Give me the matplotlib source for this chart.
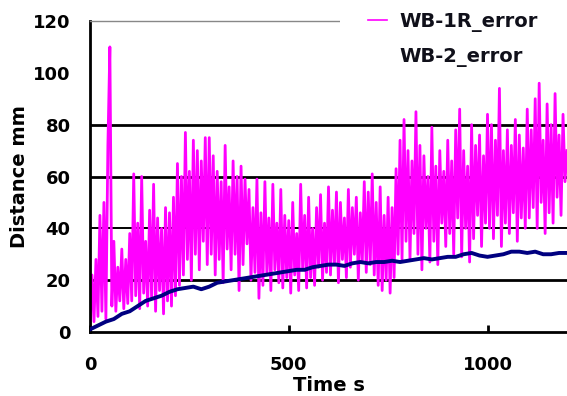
import matplotlib
matplotlib.use("Agg")
import matplotlib.pyplot as plt
from matplotlib.patches import Rectangle

# ---- data ----
t_pink = list(range(0, 1205, 5))
wb1r_error = [
    2, 22, 4, 28, 6, 45, 8, 50, 5, 72, 110, 10, 35, 8, 25, 12, 32, 9, 28, 11,
    38, 12, 61, 14, 42, 9, 60, 15, 35, 10, 47, 13, 57, 8, 44, 16, 40, 7, 48, 12,
    46, 10, 52, 14, 65, 18, 60, 22, 77, 28, 62, 20, 74, 30, 70, 24, 66, 35, 75, 26,
    75, 30, 68, 22, 62, 28, 58, 19, 72, 32, 56, 24, 66, 30, 60, 16, 64, 26, 59, 34,
    55, 20, 48, 23, 59, 13, 46, 18, 58, 22, 44, 16, 57, 24, 42, 19, 55, 17, 45, 21,
    43, 15, 50, 22, 38, 16, 57, 24, 45, 17, 52, 21, 40, 18, 48, 25, 53, 20, 42, 23,
    56, 22, 47, 26, 54, 19, 50, 28, 44, 21, 55, 25, 48, 30, 52, 20, 46, 27, 58, 23,
    54, 26, 61, 22, 50, 18, 56, 16, 45, 20, 52, 15, 48, 21, 63, 30, 74, 28, 82, 35,
    70, 28, 66, 38, 85, 30, 72, 24, 68, 40, 60, 27, 79, 35, 64, 26, 70, 42, 62, 33,
    74, 38, 66, 30, 78, 44, 86, 29, 70, 40, 64, 27, 80, 36, 72, 45, 76, 33, 68, 42,
    84, 40, 80, 36, 74, 45, 94, 33, 70, 42, 78, 38, 72, 46, 82, 35, 76, 44, 71, 40,
    86, 44, 78, 48, 90, 40, 96, 50, 74, 38, 88, 46, 80, 42, 92, 52, 76, 45, 84, 58,
    70,
]

t_navy = list(range(0, 1220, 20))
wb2_error = [
    1, 2.5, 4, 5, 7, 8, 10, 12, 13, 14, 15.5, 16.5, 17, 17.5, 16.5, 17.5, 19, 19.5,
    20, 20.5, 21, 21.5, 22, 22.5, 23, 23.5, 24, 24, 25, 25.5, 26, 26, 25.5, 26.5,
    27, 26.5, 27, 27, 27.5, 27, 27.5, 28, 28.5, 28, 28.5, 29, 29, 30, 30.5, 29.5,
    29, 29.5, 30, 31, 31, 30.5, 31, 30, 30, 30.5, 30.5,
]

x_ticks = [0, 500, 1000]
y_ticks = [0, 20, 40, 60, 80, 100, 120]
grid_levels = [20, 40, 60, 80]
labels = ["WB-1R_error", "WB-2_error"]

# ---- figure ----
fig = plt.figure(figsize=(5.67, 3.96), dpi=100)
ax = fig.add_axes([90 / 567, 1 - 332 / 396, 477 / 567, 311 / 396])

for g in grid_levels:
    ax.axhline(g, color="black", lw=2.0 if g != 40 else 1.4, zorder=1)

l1, = ax.plot(t_pink, wb1r_error, color="#ff00ff", lw=2.0, zorder=2, label=labels[0])
l2, = ax.plot(t_navy, wb2_error, color="#000080", lw=2.8, zorder=3, label=labels[1])

ax.set_xlim(0, 1200)
ax.set_ylim(0, 120)
ax.set_xticks(x_ticks)
ax.set_yticks(y_ticks)
ax.tick_params(axis="x", direction="in", length=5, width=2, pad=17, labelsize=13)
ax.tick_params(axis="y", length=0, pad=14, labelsize=13)
for lab in ax.get_xticklabels() + ax.get_yticklabels():
    lab.set_fontweight("bold")

ax.spines["left"].set_linewidth(2)
ax.spines["bottom"].set_linewidth(2)
ax.spines["top"].set_color("#888888")
ax.spines["top"].set_linewidth(1)
ax.spines["right"].set_visible(False)

ax.set_xlabel("Time s", fontsize=14, fontweight="bold", labelpad=2)
ax.set_ylabel("Distance mm", fontsize=14, fontweight="bold", labelpad=3)

# white legend panel covering the upper right corner
fig.patches.append(Rectangle((340 / 567, 1 - 76 / 396), 227 / 567, 68 / 396,
                             transform=fig.transFigure, facecolor="white",
                             edgecolor="none", zorder=5))

leg = fig.legend(handles=[l1, l2], loc="upper left",
                 bbox_to_anchor=(368 / 567, 1 - 12 / 396),
                 frameon=False, handlelength=1.0, handletextpad=0.6,
                 borderpad=0.0, labelspacing=0.75, borderaxespad=0,
                 prop={"weight": "bold", "size": 14})
leg.set_zorder(10)
leg.get_lines()[0].set_linewidth(1.2)
leg.get_lines()[1].set_visible(False)
for txt in leg.get_texts():
    txt.set_color("#10101a")

fig.savefig("out.png", dpi=100)
